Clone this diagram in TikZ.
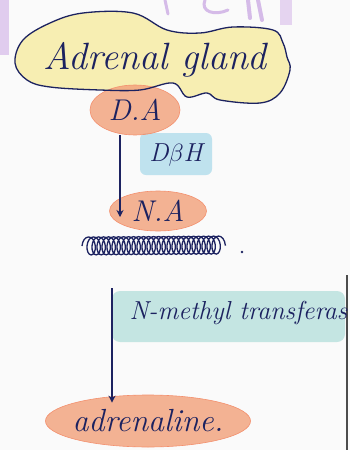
\documentclass[tikz,border=0pt]{standalone}
\usetikzlibrary{arrows.meta,calc,decorations.pathmorphing,shapes.geometric}
\definecolor{ink}{HTML}{1C2260}
\definecolor{peach}{HTML}{F2A07A}
\definecolor{lemon}{HTML}{F7EEB2}
\definecolor{sky}{HTML}{BFE2EE}
\definecolor{teal}{HTML}{C4E5E2}
\definecolor{lilac}{HTML}{CBAAE2}
\tikzset{
  hand/.style={text=ink, font=\itshape},
  blob/.style={ellipse, fill=peach, fill opacity=0.8, text opacity=1, draw=peach!90!red, line width=0.6pt, inner sep=0pt},
  arr/.style={draw=ink, line width=1.1pt, -{Stealth[length=7pt,width=7pt]}},
  cloudline/.style={draw=ink, line width=1.3pt},
}
\begin{document}
\begin{tikzpicture}[x=1pt,y=-1pt]
\useasboundingbox (0,0) rectangle (350,450);
\fill[white!96!gray] (0,0) rectangle (350,450);
% purple bleed strokes at top
\fill[lilac!60] (0,0) rectangle (9,55);
\draw[lilac!80, line width=3pt, line cap=round] (165,0) -- (168,14);
\draw[lilac!80, line width=3pt, line cap=round] (205,0) .. controls (200,12) and (215,16) .. (228,10);
\draw[lilac!80, line width=4pt, line cap=round] (248,0) -- (250,18);
\draw[lilac!80, line width=4pt, line cap=round] (258,0) -- (262,20);
\fill[lilac!50] (280,0) rectangle (292,25);
% right page edge
\draw[gray!60!black, line width=2pt] (347,275) -- (347,450);
% cloud fill
\path[fill=lemon] plot[smooth cycle, tension=0.6] coordinates {(15,63) (23,40) (50,23) (83,13) (133,13) (167,30) (200,33) (233,27) (273,30) (283,43) (287,57) (290,70) (280,93) (260,103) (220,100) (207,93) (187,97) (173,83) (140,90) (100,90) (50,87) (27,80)};
% highlights
\fill[sky, rounded corners=6pt] (140,133) rectangle (212,175);
\fill[teal, rounded corners=8pt] (112,291) rectangle (345,342);
% ellipses
\node[blob, minimum width=90pt, minimum height=50pt, hand, font=\itshape\fontsize{30}{32}\selectfont] (da) at (135,110) {D.A};
% cloud outline
\draw[cloudline] plot[smooth cycle, tension=0.6] coordinates {(15,63) (23,40) (50,23) (83,13) (133,13) (167,30) (200,33) (233,27) (273,30) (283,43) (287,57) (290,70) (280,93) (260,103) (220,100) (207,93) (187,97) (173,83) (140,90) (100,90) (50,87) (27,80)};
\node[hand, font=\itshape\fontsize{38}{40}\selectfont] (gland) at (155,60) {Adrenal gland};
\node[hand, font=\itshape\fontsize{26}{28}\selectfont] (dbh) at (176,155) {D$\beta$H};
\node[blob, minimum width=97pt, minimum height=40pt, hand, font=\itshape\fontsize{30}{32}\selectfont] (na) at (158,211) {N.A};
% scribble
\coordinate (s1) at (82,246);
\coordinate (s2) at (226,245);
\draw[ink, line width=1.3pt, decorate, decoration={coil, amplitude=9pt, segment length=5pt, aspect=0.6}] (s1) -- (s2);
\fill[ink] (242,252) circle (1.3pt);
\node[hand, font=\itshape\fontsize{26}{28}\selectfont, anchor=west] (nmt) at (126,313) {N-methyl transferas};
\node[blob, minimum width=205pt, minimum height=52pt] (adr) at (148,421) {};
\node[hand, font=\itshape\fontsize{32}{34}\selectfont] (adrtext) at (adr.center) {adrenaline.};
% arrows
\draw[arr] ([xshift=-15pt]da.south) -- ([xshift=-38pt,yshift=-6pt]na.center);
\coordinate (t2) at (112,288);
\draw[arr] (t2) -- ([xshift=-36pt,yshift=-8pt]adr.north);
\end{tikzpicture}
\end{document}
